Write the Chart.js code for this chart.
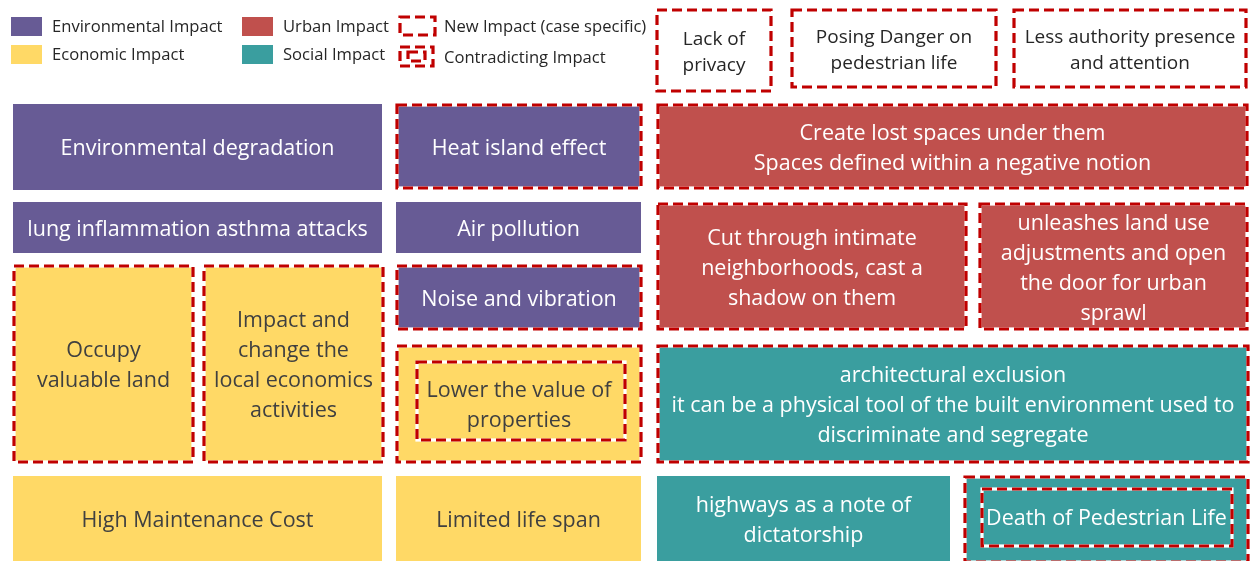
<!DOCTYPE html>
<html>
<head>
	<title>Impacts of elevated highways</title>
	<script src="https://cdn.jsdelivr.net/npm/chart.js"></script>
	<style>
		body { margin: 0; background: #ffffff; }
		#wrap { width: 1251px; height: 561px; }
	</style>
</head>
<body>
<div id="wrap"><canvas id="myChart" width="1251" height="561"></canvas></div>
<script>
// boxes of the diagram, in diagram units (x to the right, y downwards)
var boxLabels = [
	'Lack of\nprivacy',
	'Posing Danger on\npedestrian life',
	'Less authority presence\nand attention',
	'Environmental degradation',
	'Heat island effect',
	'Create lost spaces under them\nSpaces defined within a negative notion',
	'lung inflammation asthma attacks',
	'Air pollution',
	'Cut through intimate\nneighborhoods, cast a\nshadow on them',
	'unleashes land use\nadjustments and open\nthe door for urban\nsprawl',
	'Occupy\nvaluable land',
	'Impact and\nchange the\nlocal economics\nactivities',
	'Noise and vibration',
	'Lower the value of\nproperties',
	'architectural exclusion\nit can be a physical tool of the built environment used to\ndiscriminate and segregate',
	'High Maintenance Cost',
	'Limited life span',
	'highways as a note of\ndictatorship',
	'Death of Pedestrian Life'
];
var boxLeft   = [656, 791, 1013, 13, 396, 657, 13, 396, 657, 979, 13, 203, 396, 396, 657, 13, 396, 657, 964];
var boxRight  = [772, 997, 1247, 382, 642, 1248, 382, 641, 967, 1248, 194, 384, 642, 642, 1249, 382, 641, 950, 1249];
var boxTop    = [9, 9, 9, 104, 104, 104, 202, 202, 203, 203, 265, 265, 265, 345, 345, 476, 476, 476, 476];
var boxBottom = [92, 88, 88, 190, 189, 189, 253, 253, 330, 330, 463, 463, 330, 463, 463, 561, 561, 561, 563];
// impact type: env, econ, urban, social, none
var boxGroup = ['none', 'none', 'none', 'env', 'env', 'urban', 'env', 'env', 'urban', 'urban',
	'econ', 'econ', 'env', 'econ', 'social', 'econ', 'econ', 'social', 'social'];
// '' plain, 'new' = new impact (case specific), 'contra' = contradicting impact
var boxKind = ['new', 'new', 'new', '', 'new', 'new', '', '', 'new', 'new',
	'new', 'new', 'new', 'contra', 'new', '', '', '', 'contra'];

var legendLabels = ['Environmental Impact', 'Economic Impact', 'Urban Impact', 'Social Impact', 'New Impact (case specific)', 'Contradicting Impact'];
var legendKeys = ['env', 'econ', 'urban', 'social', 'new', 'contra'];

var groupColors = {
	env: '#675b95',
	econ: '#ffd966',
	urban: '#c0504d',
	social: '#3a9e9f',
	none: '#ffffff'
};
var textColors = {
	env: '#ffffff',
	econ: '#404040',
	urban: '#ffffff',
	social: '#ffffff',
	none: '#262626'
};
var dashRed = '#c00000';
var fontName = '"Open Sans", sans-serif';

function dashedRect(ctx, x, y, w, h) {
	ctx.save();
	ctx.lineWidth = 3.2;
	ctx.strokeStyle = '#ffffff';
	ctx.setLineDash([]);
	ctx.strokeRect(x, y, w, h);
	ctx.strokeStyle = dashRed;
	ctx.setLineDash([10, 5]);
	ctx.strokeRect(x, y, w, h);
	ctx.restore();
}

var boxPlugin = {
	id: 'boxes',
	afterDatasetsDraw: function(chart) {
		var ctx = chart.ctx;
		var xs = chart.scales.x;
		var ys = chart.scales.y;
		ctx.save();
		for (var i = 0; i < boxLabels.length; i++) {
			var x0 = xs.getPixelForValue(boxLeft[i]);
			var x1 = xs.getPixelForValue(boxRight[i]);
			var y0 = ys.getPixelForValue(boxTop[i]);
			var y1 = ys.getPixelForValue(boxBottom[i]);
			var g = boxGroup[i];
			ctx.fillStyle = groupColors[g];
			ctx.fillRect(x0, y0, x1 - x0, y1 - y0);
			if (boxKind[i] != '') {
				dashedRect(ctx, x0 + 1, y0 + 1, x1 - x0 - 2, y1 - y0 - 2);
			}
			if (boxKind[i] == 'contra') {
				if (i == 18) dashedRect(ctx, x0 + 18, y0 + 13, x1 - x0 - 35, y1 - y0 - 30);
				else dashedRect(ctx, x0 + 21, y0 + 17, x1 - x0 - 38, y1 - y0 - 40);
			}
			var lines = boxLabels[i].split('\n');
			var top = g == 'none';
			ctx.fillStyle = textColors[g];
			ctx.font = (top ? '19px ' : '21.5px ') + fontName;
			ctx.textAlign = 'center';
			ctx.textBaseline = 'middle';
			var lh = top ? 26 : 30;
			var cy = (y0 + y1) / 2 - (lines.length - 1) * lh / 2 + 2;
			if (i == 18) cy = (y0 + y1) / 2 - 1;
			for (var k = 0; k < lines.length; k++) {
				ctx.fillText(lines[k], (x0 + x1) / 2, cy + k * lh);
			}
		}

		// legend, two rows of three
		var colX = [11, 242, 399];
		ctx.font = '16.6px ' + fontName;
		ctx.textAlign = 'left';
		ctx.textBaseline = 'middle';
		for (var j = 0; j < legendLabels.length; j++) {
			var col = Math.floor(j / 2);
			var row = j % 2;
			var lx = colX[col];
			var ly = row == 0 ? 17 : 45;
			var key = legendKeys[j];
			if (key == 'new') {
				dashedRect(ctx, lx + 1, ly, 35, 18);
			} else if (key == 'contra') {
				dashedRect(ctx, lx + 1, ly + 2, 33, 19);
				dashedRect(ctx, lx + 9, ly + 7, 17, 9);
				ly += 3;
			} else {
				ctx.fillStyle = groupColors[key];
				ctx.fillRect(lx, ly, 31, 19);
			}
			ctx.fillStyle = '#262626';
			ctx.fillText(legendLabels[j], lx + (col == 2 ? 45 : 41), ly + 10);
		}
		ctx.restore();
	}
};

var chartConfig = {
	type: 'scatter',
	data: { datasets: [{ data: [] }] },
	options: {
		responsive: false,
		animation: false,
		layout: { padding: 0 },
		scales: {
			x: { type: 'linear', min: 0, max: 1251, display: false },
			y: { type: 'linear', min: 0, max: 561, reverse: true, display: false }
		},
		plugins: {
			legend: { display: false },
			tooltip: { enabled: false }
		}
	},
	plugins: [boxPlugin]
};

new Chart(document.getElementById('myChart'), chartConfig);
</script>
</body>
</html>
